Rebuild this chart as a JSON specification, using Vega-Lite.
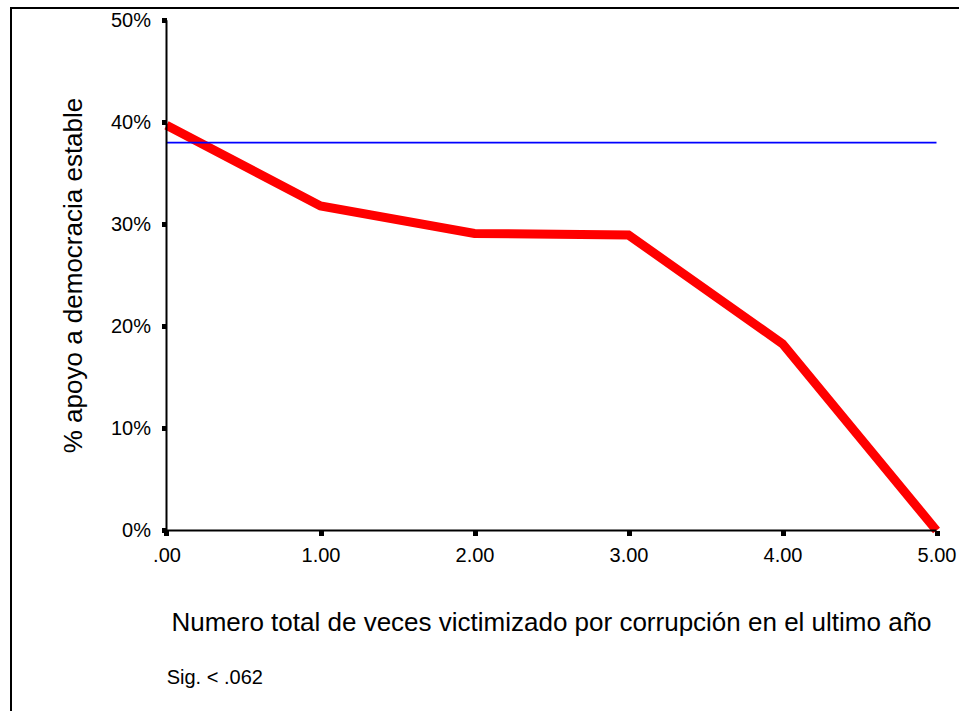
{
  "$schema": "https://vega.github.io/schema/vega-lite/v6.json",
  "width": 950,
  "height": 705,
  "autosize": {"type": "none"},
  "padding": {"left": 11, "top": 8, "right": -2, "bottom": -2},
  "background": "white",
  "config": {
    "font": "Liberation Sans",
    "view": {"stroke": "black", "strokeWidth": 2}
  },
  "title": {
    "text": "Sig. < .062",
    "orient": "bottom",
    "anchor": "start",
    "frame": "group",
    "font": "Liberation Sans",
    "fontSize": 20,
    "fontWeight": "normal",
    "color": "black",
    "baseline": "alphabetic",
    "dx": 155.7,
    "offset": -29
  },
  "layer": [
    {
      "data": {"values": [
        {"veces": 0, "apoyo": 0.397},
        {"veces": 1, "apoyo": 0.318},
        {"veces": 2, "apoyo": 0.291},
        {"veces": 3, "apoyo": 0.2895},
        {"veces": 4, "apoyo": 0.183},
        {"veces": 5, "apoyo": 0.0}
      ]},
      "mark": {"type": "line", "color": "#ff0000", "strokeWidth": 9, "strokeJoin": "miter", "strokeCap": "butt"},
      "encoding": {
        "x": {
          "field": "veces", "type": "quantitative",
          "scale": {"domain": [-1.00974, 5.15909], "nice": false, "zero": false},
          "axis": {
            "title": "Numero total de veces victimizado por corrupción en el ultimo año",
            "values": [0, 1, 2, 3, 4, 5],
            "labelExpr": "datum.value == 0 ? '.00' : format(datum.value, '.2f')",
            "offset": -182.5,
            "domain": false,
            "grid": false,
            "tickSize": 5,
            "tickWidth": 5,
            "tickColor": "black",
            "labelPadding": 10,
            "labelFontSize": 20,
            "labelColor": "black",
            "labelFont": "Liberation Sans",
            "titleFont": "Liberation Sans",
            "titleFontSize": 26,
            "titleFontWeight": "normal",
            "titleColor": "black",
            "titleX": 540,
            "titleY": 99.5,
            "titleBaseline": "alphabetic",
            "titleAlign": "center"
          }
        },
        "y": {
          "field": "apoyo", "type": "quantitative",
          "scale": {"domain": [-0.17882, 0.51195], "nice": false, "zero": false},
          "axis": {
            "title": "% apoyo a democracia estable",
            "values": [0, 0.1, 0.2, 0.3, 0.4, 0.5],
            "format": ".0%",
            "offset": -155.5,
            "domain": false,
            "grid": false,
            "tickSize": 5,
            "tickWidth": 5,
            "tickColor": "black",
            "labelPadding": 11,
            "labelFontSize": 20,
            "labelColor": "black",
            "labelFont": "Liberation Sans",
            "titleFont": "Liberation Sans",
            "titleFontSize": 26,
            "titleFontWeight": "normal",
            "titleColor": "black",
            "titleX": -85,
            "titleY": 267,
            "titleAngle": -90,
            "titleBaseline": "alphabetic",
            "titleAlign": "center"
          }
        }
      }
    },
    {
      "data": {"values": [{"veces": 0, "veces_fin": 5, "apoyo": 0.38}]},
      "mark": {"type": "rule", "color": "#0000ff", "strokeWidth": 1.6},
      "encoding": {
        "x": {"field": "veces", "type": "quantitative"},
        "x2": {"field": "veces_fin"},
        "y": {"field": "apoyo", "type": "quantitative"}
      }
    },
    {
      "data": {"values": [{"eje": "y"}]},
      "mark": {"type": "rule", "color": "black", "strokeWidth": 2},
      "encoding": {
        "x": {"datum": 0, "type": "quantitative"},
        "y": {"datum": 0, "type": "quantitative"},
        "y2": {"datum": 0.5}
      }
    },
    {
      "data": {"values": [{"eje": "x"}]},
      "mark": {"type": "rule", "color": "black", "strokeWidth": 2},
      "encoding": {
        "y": {"datum": 0, "type": "quantitative"},
        "x": {"datum": 0, "type": "quantitative"},
        "x2": {"datum": 5}
      }
    }
  ]
}
